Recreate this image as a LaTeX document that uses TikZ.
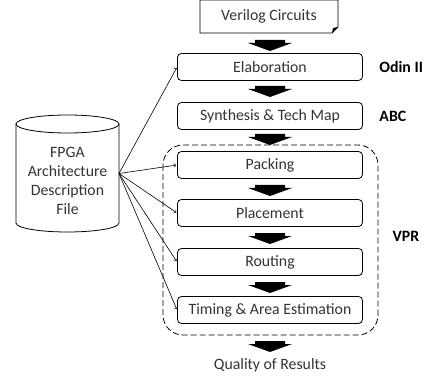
\documentclass[tikz,border=0pt]{standalone}
\usepackage{fontspec}
\setmainfont{Carlito}
\tikzset{every node/.style={font=\fontsize{15.8}{19}\selectfont}}

\begin{document}
\begin{tikzpicture}[x=1pt,y=-1pt,
  stage/.style={draw, thick, rounded corners=4pt, minimum width=185pt,
    minimum height=27pt, inner sep=0pt, text=black!80},
  tool/.style={font=\fontsize{15.8}{19}\selectfont\bfseries, anchor=west},
  blk/.style={fill=black},
  feed/.style={->, semithick, shorten >=1pt}
% stage boxes all sit on the column x=270
]
\useasboundingbox (0,0) rectangle (425,379);

% input file with the folded corner
\draw[thick] (200,0) -- (338,0) -- (338,27) -- (332,33) -- (200,33) -- cycle;
\fill (338,27) -- (332,33) -- (333,28) -- cycle;
\path (269,16) node (vlog) {\color{black!80}Verilog Circuits};

\path (270,67) node[stage] (elab) {Elaboration};
\path (270,116) node[stage] (synth) {Synthesis \& Tech Map};
\path (270,165) node[stage] (pack) {Packing};
\path (270,213) node[stage] (place) {Placement};
\path (270,262) node[stage] (route) {Routing};
\path (270,310) node[stage] (time) {Timing \& Area Estimation};
\path (270,365) node (qor) {\color{black!80}Quality of Results};

\path (elab.east) ++ (13,0) node[tool] {Odin II};
\path (synth.east) ++ (13,0) node[tool] {ABC};
\path (378,236) node[tool, xshift=11pt] {VPR};

% VPR group
\draw[thick, dashed, dash pattern=on 6pt off 3pt, rounded corners=20pt]
  (163,145) rectangle (378,335);

% block arrows between the stages
\foreach \t in {40,86,134,185,233,282,341} {
  \fill[blk] (255,\t) -- (285,\t) -- (285,\t+3) -- (292,\t+3) -- (270,\t+11)
    -- (248,\t+3) -- (255,\t+3) -- cycle;
}

% architecture file drum
\draw[thick] (119,124) -- (119,223)
  arc[start angle=0, end angle=180, x radius=51.5, y radius=9] -- (16,124);
\draw[thick] (67.5,124) ellipse[x radius=51.5, y radius=9];
\coordinate (fpga) at (119,173.5);
\path (67.5,180.5) node[align=center, text width=100pt, text=black!80,
  inner sep=0pt] (fpgatxt) {FPGA\\Architecture\\Description\\File};

\foreach \s in {elab,pack,place,route,time}
  \draw[feed] (fpga) -- (\s.west);
\end{tikzpicture}
\end{document}
